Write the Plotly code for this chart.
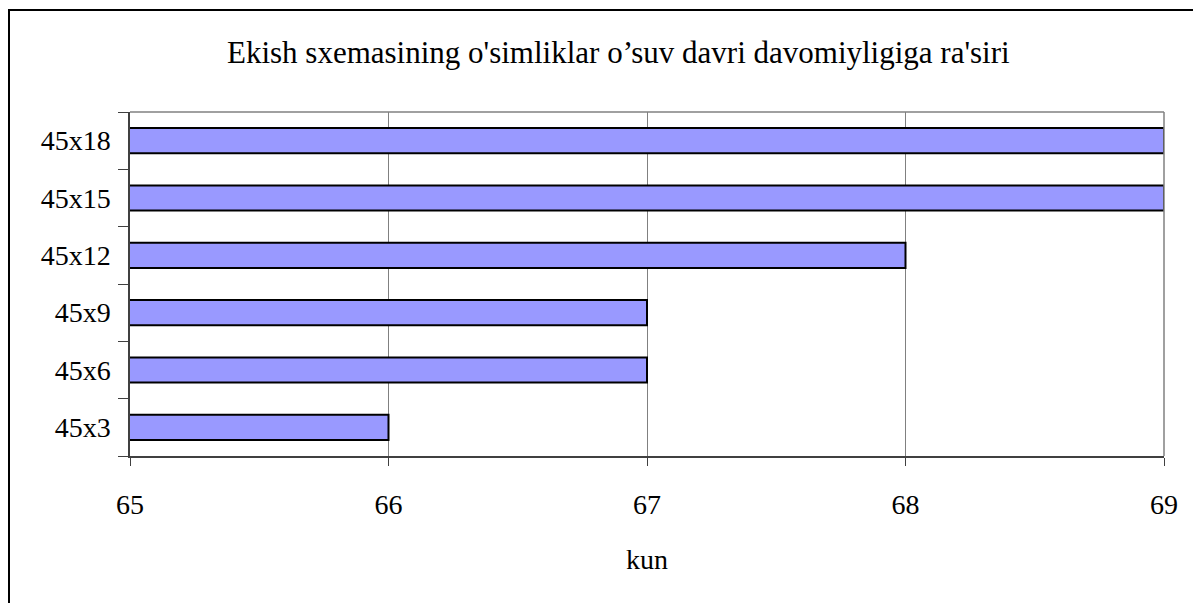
import plotly.graph_objects as go

# Planting schemes and growing season length (days)
schemes = ["45x3", "45x6", "45x9", "45x12", "45x15", "45x18"]
days = [66, 67, 67, 68, 69, 69]
x_ticks = [65, 66, 67, 68, 69]
chart_title = "Ekish sxemasining o'simliklar o’suv davri davomiyligiga ra'siri"

W, H = 1193, 603
L, R, T, B = 130, 29, 112, 147
pw, ph = W - L - R, H - T - B

def px_x(p):
    return (p - L) / pw

def px_y(p):
    return (H - B - p) / ph

font_family = "Liberation Serif"

fig = go.Figure(
    go.Bar(
        y=schemes,
        x=days,
        orientation="h",
        marker=dict(color="#9999FF", line=dict(color="black", width=2)),
        width=0.44,
    )
)

fig.update_layout(
    width=W,
    height=H,
    margin=dict(l=L, r=R, t=T, b=B),
    paper_bgcolor="white",
    plot_bgcolor="white",
    showlegend=False,
    font=dict(family=font_family, color="black"),
    xaxis=dict(
        range=[65, 69],
        tickvals=x_ticks,
        ticktext=[str(v) for v in x_ticks],
        showgrid=True,
        gridcolor="#808080",
        gridwidth=1,
        showline=True,
        linecolor="#404040",
        linewidth=1.5,
        ticks="outside",
        ticklen=8,
        tickcolor="#404040",
        tickfont=dict(size=28, family=font_family),
        ticklabelstandoff=15,
        title=dict(text="kun", font=dict(size=28, family=font_family), standoff=30),
        zeroline=False,
        fixedrange=True,
    ),
    yaxis=dict(
        categoryorder="array",
        categoryarray=schemes,
        showgrid=False,
        showline=True,
        linecolor="#404040",
        linewidth=1.5,
        ticks="outside",
        tickson="boundaries",
        ticklen=10,
        tickcolor="#404040",
        tickfont=dict(size=28, family=font_family),
        ticklabelstandoff=12,
        fixedrange=True,
    ),
    annotations=[
        dict(
            text=chart_title,
            xref="paper", yref="paper",
            x=px_x(618), y=px_y(53),
            xanchor="center", yanchor="middle",
            showarrow=False,
            font=dict(size=31, family=font_family, color="black"),
        )
    ],
    shapes=[
        # plot area frame (top and right edges)
        dict(type="line", xref="paper", yref="paper", x0=0, x1=1, y0=1, y1=1,
             line=dict(color="#808080", width=1.5)),
        dict(type="line", xref="paper", yref="paper", x0=1, x1=1, y0=0, y1=1,
             line=dict(color="#808080", width=1.5)),
        # outer chart border
        dict(type="rect", xref="paper", yref="paper",
             x0=px_x(9), x1=px_x(W + 20), y0=px_y(H + 20), y1=px_y(10),
             line=dict(color="black", width=2), fillcolor="rgba(0,0,0,0)",
             layer="below"),
    ],
)

fig.write_html("out.html")
